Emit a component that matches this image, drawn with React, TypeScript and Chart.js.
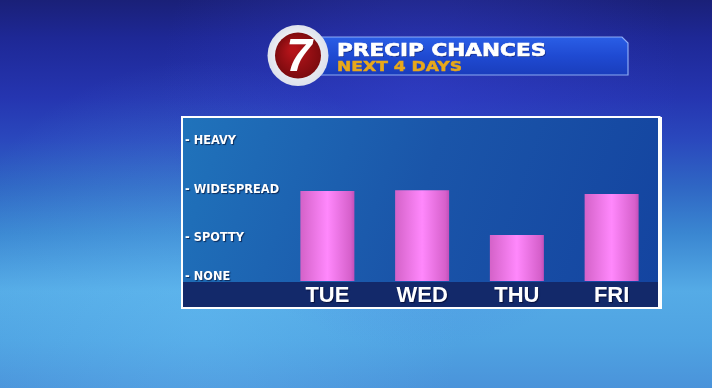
import React, { useEffect, useRef } from "react";
import { Chart, registerables } from "chart.js";

Chart.register(...registerables);

const days = ["TUE", "WED", "THU", "FRI"];
const precipValues = [1.93, 1.95, 0.99, 1.87];
const levelLabels = ["- NONE", "- SPOTTY", "- WIDESPREAD", "- HEAVY"];
const levelValues = [0.08, 0.92, 1.95, 3.0];
const titleText = "PRECIP CHANCES";
const subtitleText = "NEXT 4 DAYS";
const logoText = "7";

const decorPlugin = {
  id: "decor",
  beforeDraw(chart: any) {
    const ctx = chart.ctx as CanvasRenderingContext2D;
    const W = chart.width;
    const H = chart.height;
    ctx.save();
    // background
    const bg = ctx.createLinearGradient(0, 0, 0, H);
    bg.addColorStop(0, "#1a2078");
    bg.addColorStop(0.1, "#1e2896");
    bg.addColorStop(0.25, "#2535b0");
    bg.addColorStop(0.36, "#2a48bd");
    bg.addColorStop(0.48, "#2f66c4");
    bg.addColorStop(0.6, "#3a86d1");
    bg.addColorStop(0.75, "#55abe6");
    bg.addColorStop(0.88, "#4fa3e2");
    bg.addColorStop(1, "#4a93da");
    ctx.fillStyle = bg;
    ctx.fillRect(0, 0, W, H);
    const rg = ctx.createRadialGradient(200, 320, 10, 200, 320, 260);
    rg.addColorStop(0, "rgba(110,200,250,0.3)");
    rg.addColorStop(1, "rgba(110,200,250,0)");
    ctx.fillStyle = rg;
    ctx.fillRect(0, 0, W, H);
    const hg = ctx.createRadialGradient(420, 90, 10, 420, 90, 260);
    hg.addColorStop(0, "rgba(60,70,220,0.35)");
    hg.addColorStop(1, "rgba(60,70,220,0)");
    ctx.fillStyle = hg;
    ctx.fillRect(0, 0, W, H);

    // panel
    const pg = ctx.createLinearGradient(183, 118, 658, 282);
    pg.addColorStop(0, "#2073bb");
    pg.addColorStop(0.5, "#1a55a9");
    pg.addColorStop(1, "#1444a0");
    ctx.fillStyle = pg;
    ctx.fillRect(183, 118, 475, 164);
    ctx.fillStyle = "#13296a";
    ctx.fillRect(183, 282, 475, 25);
    ctx.strokeStyle = "#ffffff";
    ctx.lineWidth = 2;
    ctx.strokeRect(182, 117, 477.5, 191);
    ctx.fillStyle = "#ffffff";
    ctx.fillRect(658, 117, 4, 192);

    // banner
    const bx = 318, by = 37, bw = 310, bh = 38;
    ctx.beginPath();
    ctx.moveTo(bx, by);
    ctx.lineTo(bx + bw - 6, by);
    ctx.lineTo(bx + bw, by + 6);
    ctx.lineTo(bx + bw, by + bh);
    ctx.lineTo(bx, by + bh);
    ctx.closePath();
    const bgr = ctx.createLinearGradient(0, by, 0, by + bh);
    bgr.addColorStop(0, "#2a5ee6");
    bgr.addColorStop(0.5, "#1f4ad2");
    bgr.addColorStop(1, "#1a3dbc");
    ctx.fillStyle = bgr;
    ctx.fill();
    ctx.strokeStyle = "rgba(160,190,255,0.85)";
    ctx.lineWidth = 1.2;
    ctx.stroke();

    // logo
    const cx = 298, cy = 55.5;
    ctx.beginPath();
    ctx.arc(cx, cy, 30.5, 0, Math.PI * 2);
    const wg = ctx.createRadialGradient(cx - 6, cy - 8, 4, cx, cy, 31);
    wg.addColorStop(0, "#ffffff");
    wg.addColorStop(1, "#dde1ec");
    ctx.fillStyle = wg;
    ctx.fill();
    ctx.beginPath();
    ctx.arc(cx, cy, 23, 0, Math.PI * 2);
    const rgd = ctx.createRadialGradient(cx - 5, cy - 6, 3, cx, cy, 24);
    rgd.addColorStop(0, "#b5141a");
    rgd.addColorStop(1, "#7a0a0e");
    ctx.fillStyle = rgd;
    ctx.fill();
    ctx.fillStyle = "#ffffff";
    ctx.font = "italic bold 46px 'Liberation Sans', Arial, sans-serif";
    ctx.textAlign = "center";
    ctx.textBaseline = "middle";
    ctx.fillText(logoText, cx + 1, cy + 3);

    // title texts
    ctx.textAlign = "left";
    ctx.textBaseline = "alphabetic";
    ctx.save();
    ctx.translate(337, 55.5);
    ctx.scale(1.27, 1);
    ctx.font = "bold 17px 'DejaVu Sans', sans-serif";
    ctx.shadowColor = "rgba(0,0,40,0.5)";
    ctx.shadowOffsetX = 1;
    ctx.shadowOffsetY = 1;
    ctx.fillStyle = "#ffffff";
    ctx.fillText(titleText, 0, 0);
    ctx.shadowColor = "rgba(0,0,0,0)";
    ctx.shadowOffsetX = 0;
    ctx.shadowOffsetY = 0;
    ctx.strokeStyle = "#ffffff";
    ctx.lineWidth = 0.6;
    ctx.strokeText(titleText, 0, 0);
    ctx.restore();
    ctx.save();
    ctx.translate(337, 71);
    ctx.scale(1.22, 1);
    ctx.fillStyle = "#e8a81a";
    ctx.strokeStyle = "#e8a81a";
    ctx.lineWidth = 0.5;
    ctx.font = "bold 14px 'DejaVu Sans', sans-serif";
    ctx.fillText(subtitleText, 0, 0);
    ctx.strokeText(subtitleText, 0, 0);
    ctx.restore();

    ctx.restore();
    // shadow for scale labels
    ctx.shadowColor = "rgba(0,0,30,0.6)";
    ctx.shadowOffsetX = 1;
    ctx.shadowOffsetY = 1;
    ctx.shadowBlur = 1;
  },
  beforeDatasetsDraw(chart: any) {
    const ctx = chart.ctx;
    ctx.shadowColor = "rgba(0,0,0,0)";
    ctx.shadowOffsetX = 0;
    ctx.shadowOffsetY = 0;
    ctx.shadowBlur = 0;
  },
};

export default function App() {
  const ref = useRef<HTMLCanvasElement | null>(null);
  useEffect(() => {
    if (!ref.current) return;
    const barPct = 0.57;
    const chart = new Chart(ref.current, {
      type: "bar",
      data: {
        labels: days,
        datasets: [
          {
            data: precipValues,
            barPercentage: barPct,
            categoryPercentage: 1,
            borderWidth: 0,
            backgroundColor: (c: any) => {
              const ch = c.chart;
              const area = ch.chartArea;
              if (!area || c.dataIndex === undefined) return "#e878e8";
              const xs = ch.scales.x;
              const cx = xs.getPixelForValue(c.dataIndex);
              const w = ((area.right - area.left) / days.length) * barPct;
              const g = ch.ctx.createLinearGradient(cx - w / 2, 0, cx + w / 2, 0);
              g.addColorStop(0, "#d462c8");
              g.addColorStop(0.5, "#ff88fc");
              g.addColorStop(0.93, "#d660cb");
              g.addColorStop(1, "#c24fba");
              return g;
            },
          },
        ],
      },
      options: {
        animation: false,
        responsive: false,
        maintainAspectRatio: false,
        layout: { padding: { left: 185, right: 53, top: 118, bottom: 81 } },
        plugins: {
          legend: { display: false },
          tooltip: { enabled: false },
          title: { display: false },
        },
        scales: {
          x: {
            grid: { display: false, drawTicks: false },
            border: { display: false },
            afterFit: (s: any) => {
              s.height = 26;
            },
            ticks: {
              color: "#ffffff",
              padding: 2,
              font: { family: "'Liberation Sans', Arial, sans-serif", weight: "bold", size: 22 },
            },
          },
          y: {
            min: 0,
            max: 3.5,
            grid: { display: false, drawTicks: false },
            border: { display: false },
            afterFit: (s: any) => {
              s.width = 95;
            },
            afterBuildTicks: (s: any) => {
              s.ticks = levelValues.map((v) => ({ value: v }));
            },
            ticks: {
              color: "#ffffff",
              crossAlign: "far",
              padding: 0,
              autoSkip: false,
              font: { family: "'DejaVu Sans', sans-serif", weight: "bold", size: 11.4 },
              callback: (_v: any, i: number) => levelLabels[i],
            },
          },
        },
      } as any,
      plugins: [decorPlugin],
    });
    return () => chart.destroy();
  }, []);
  return (
    <div style={{ position: "fixed", left: 0, top: 0, width: 712, height: 388 }}>
      <canvas ref={ref} width={712} height={388} style={{ width: 712, height: 388, display: "block" }} />
    </div>
  );
}
